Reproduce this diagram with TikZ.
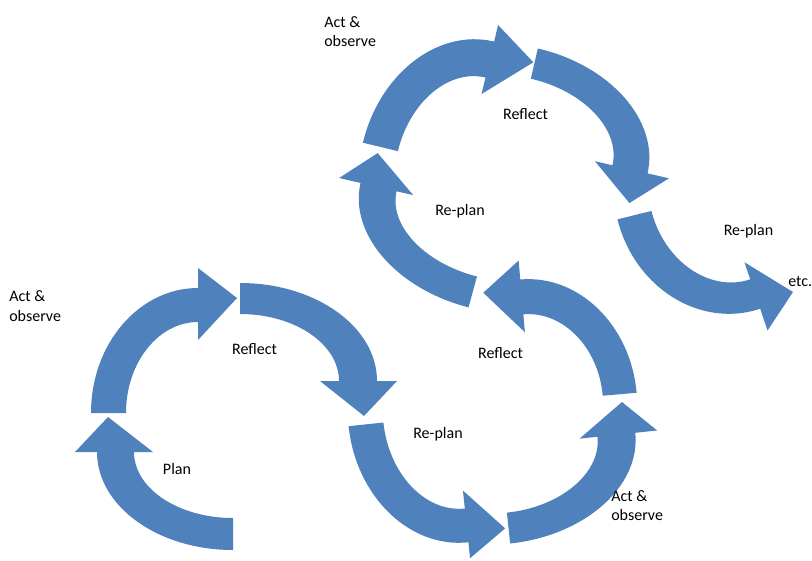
\documentclass[tikz,border=0pt]{standalone}
\usepackage{fontspec}
\setmainfont{Carlito}
\definecolor{arrowblue}{HTML}{4F81BD}
\begin{document}
\begin{tikzpicture}[x=0.75pt,y=-0.75pt,
  blockarrow/.style={fill=arrowblue, draw=none},
  lbl/.style={font=\fontsize{12}{14.6}\selectfont, inner sep=0pt, text=black},
  lbl2/.style={lbl, align=left, anchor=north west}]
\useasboundingbox (0,0) rectangle (812,560);
% ---------- cycle 1 ----------
% Plan
\begin{scope}[shift={(233,452)}]
\fill[blockarrow] (90:136 and 98) arc[start angle=90,end angle=180,x radius=136,y radius=98]
  -- (180:158) -- (-125,-35) -- (180:80) -- (180:99 and 66)
  arc[start angle=180,end angle=90,x radius=99,y radius=66] -- cycle;
\end{scope}
% Act & observe
\begin{scope}[shift={(198,413)}]
\fill[blockarrow] (180:107 and 125) arc[start angle=180,end angle=270,x radius=107,y radius=125]
  -- (270:145) -- (39,-115) -- (270:73) -- (270:72 and 91)
  arc[start angle=270,end angle=180,x radius=72,y radius=91] -- cycle;
\end{scope}
% Reflect
\begin{scope}[shift={(240,381)}]
\fill[blockarrow] (270:137 and 98) arc[start angle=270,end angle=360,x radius=137,y radius=98]
  -- (0:157) -- (124,35) -- (0:80) -- (0:99 and 67)
  arc[start angle=360,end angle=270,x radius=99,y radius=67] -- cycle;
\end{scope}
% ---------- cycle 2 ----------
% Re-plan
\begin{scope}[shift={(455,415)},rotate=6]
\fill[blockarrow] (180:107 and 128) arc[start angle=180,end angle=90,x radius=107,y radius=128]
  -- (90:144) -- (38,118) -- (90:76) -- (90:72 and 94)
  arc[start angle=90,end angle=180,x radius=72,y radius=94] -- cycle;
\end{scope}
% Act & observe
\begin{scope}[shift={(500,447)},rotate=6]
\fill[blockarrow] (90:136 and 97) arc[start angle=90,end angle=0,x radius=136,y radius=97]
  -- (0:158) -- (126,-32) -- (0:80) -- (0:98 and 66)
  arc[start angle=0,end angle=90,x radius=98,y radius=66] -- cycle;
\end{scope}
% Reflect
\begin{scope}[shift={(531,402)},rotate=5]
\fill[blockarrow] (0:106 and 123) arc[start angle=0,end angle=-90,x radius=106,y radius=123]
  -- (-90:142) -- (-38,-113) -- (-90:70) -- (-90:72 and 88)
  arc[start angle=-90,end angle=0,x radius=72,y radius=88] -- cycle;
\end{scope}
% ---------- cycle 3 ----------
% Re-plan
\begin{scope}[shift={(495,214)},rotate=-13]
\fill[blockarrow] (92:138 and 97) arc[start angle=92,end angle=180,x radius=138,y radius=97]
  -- (180:160) -- (-128,-33) -- (180:84) -- (180:101 and 65)
  arc[start angle=180,end angle=92,x radius=101,y radius=65] -- cycle;
\end{scope}
% Act & observe
\begin{scope}[shift={(464,167)},rotate=-13.5]
\fill[blockarrow] (180:104 and 129) arc[start angle=180,end angle=270,x radius=104,y radius=129]
  -- (270:146) -- (43,-118) -- (270:75) -- (270:68 and 92)
  arc[start angle=270,end angle=180,x radius=68,y radius=92] -- cycle;
\end{scope}
% Reflect
\begin{scope}[shift={(516,143)},rotate=-13]
\fill[blockarrow] (270:135 and 97) arc[start angle=270,end angle=360,x radius=135,y radius=97]
  -- (0:157) -- (124,33) -- (0:81) -- (0:99 and 66)
  arc[start angle=360,end angle=270,x radius=99,y radius=66] -- cycle;
\end{scope}
% ---------- last Re-plan ----------
\begin{scope}[shift={(722,196)},rotate=18.7]
\fill[blockarrow] (185.5:107 and 119) arc[start angle=185.5,end angle=90,x radius=107,y radius=119]
  -- (90:142) -- (36.5,113.7) -- (90:70) -- (90:72 and 88)
  arc[start angle=90,end angle=185.5,x radius=72,y radius=88] -- cycle;
\end{scope}
% ---------- labels ----------
\node[lbl2] (ao1) at (9,290.5) {Act \&\\observe};
\node[lbl, anchor=base] (rf1) at (254.5,354) {Reflect};
\node[lbl, anchor=base] (pl1) at (177,474) {Plan};
\node[lbl, anchor=base] (rp2) at (438,438.3) {Re-plan};
\node[lbl, anchor=base] (rf2) at (500.5,358.3) {Reflect};
\node[lbl2] (ao2) at (611,490.2) {Act \&\\observe};
\node[lbl2] (ao3) at (324,16.2) {Act \&\\observe};
\node[lbl, anchor=base] (rf3) at (525.5,119.3) {Reflect};
\node[lbl, anchor=base] (rp3) at (460,215) {Re-plan};
\node[lbl, anchor=base] (rp4) at (748.5,235.7) {Re-plan};
\node[lbl, anchor=base west] (etc) at (788,286.7) {etc.};
\end{tikzpicture}
\end{document}
